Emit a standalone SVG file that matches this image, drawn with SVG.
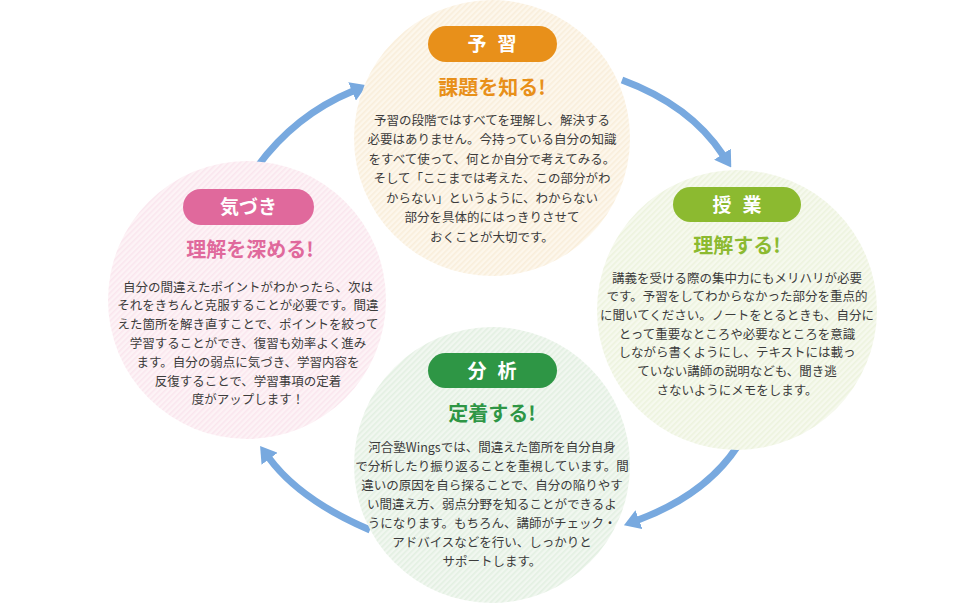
<svg xmlns="http://www.w3.org/2000/svg" width="980" height="608" viewBox="0 0 980 608">
<defs>
<pattern id="pTop" width="4" height="4" patternUnits="userSpaceOnUse" patternTransform="rotate(45)"><rect width="4" height="4" fill="#fdf7ec"/><rect width="1.6" height="4" fill="#f9eedb"/></pattern>
<pattern id="pRight" width="4" height="4" patternUnits="userSpaceOnUse" patternTransform="rotate(45)"><rect width="4" height="4" fill="#f6f9ee"/><rect width="1.6" height="4" fill="#edf3de"/></pattern>
<pattern id="pLeft" width="4" height="4" patternUnits="userSpaceOnUse" patternTransform="rotate(45)"><rect width="4" height="4" fill="#fdf3f6"/><rect width="1.6" height="4" fill="#fae6ee"/></pattern>
<pattern id="pBottom" width="4" height="4" patternUnits="userSpaceOnUse" patternTransform="rotate(45)"><rect width="4" height="4" fill="#f1f7f0"/><rect width="1.6" height="4" fill="#e3f0e2"/></pattern>
<marker id="ah" viewBox="0 0 16 20" refX="1" refY="10" markerWidth="16" markerHeight="20" markerUnits="userSpaceOnUse" orient="auto"><path d="M0,0 L16,10 L0,20 z" fill="#78a9df"/></marker>
</defs>
<style>
.arrow{fill:none;stroke:#78a9df;stroke-width:7;marker-end:url(#ah)}
.badge-t{font-family:"Noto Sans CJK JP","Noto Sans",sans-serif;font-weight:bold;font-size:19px;fill:#ffffff;text-anchor:middle}
.title{font-family:"Noto Sans CJK JP","Noto Sans",sans-serif;font-weight:bold;font-size:20px;text-anchor:middle}
.body{font-family:"Noto Sans CJK JP","Noto Sans",sans-serif;font-size:12.5px;fill:#3c3c3c;text-anchor:middle}
</style>
<rect width="980" height="608" fill="#ffffff"/>
<g id="connectors">
<path class="arrow" d="M257,167 Q295,115 353,91"/>
<path class="arrow" d="M622,80 Q690,105 723,155"/>
<path class="arrow" d="M737,447 Q705,495 638,520"/>
<path class="arrow" d="M370,530 Q300,500 269,458"/>
</g>
<g id="yoshu">
<circle cx="492" cy="138" r="138" fill="url(#pTop)"/>
<rect x="428" y="26" width="129" height="36" rx="18" fill="#e8901a"/>
<text class="badge-t" x="497.5" y="51" letter-spacing="11">予習</text>
<text class="title" x="492" y="95" fill="#e8901a">課題を知る!</text>
<text class="body" x="492" y="124.5">予習の段階ではすべてを理解し、解決する</text>
<text class="body" x="492" y="144">必要はありません。今持っている自分の知識</text>
<text class="body" x="492" y="163.5">をすべて使って、何とか自分で考えてみる。</text>
<text class="body" x="492" y="183">そして「ここまでは考えた、この部分がわ</text>
<text class="body" x="492" y="202.5">からない」というように、わからない</text>
<text class="body" x="492" y="222">部分を具体的にはっきりさせて</text>
<text class="body" x="492" y="241.5">おくことが大切です。</text>
</g>
<g id="jugyo">
<circle cx="737" cy="310" r="140" fill="url(#pRight)"/>
<rect x="673" y="187" width="128" height="35" rx="17.5" fill="#8cba30"/>
<text class="badge-t" x="742.5" y="211.5" letter-spacing="11">授業</text>
<text class="title" x="737" y="253" fill="#8cba30">理解する!</text>
<text class="body" x="737" y="282.5">講義を受ける際の集中力にもメリハリが必要</text>
<text class="body" x="737" y="301.2">です。予習をしてわからなかった部分を重点的</text>
<text class="body" x="737" y="319.9">に聞いてください。ノートをとるときも、自分に</text>
<text class="body" x="737" y="338.6">とって重要なところや必要なところを意識</text>
<text class="body" x="737" y="357.3">しながら書くようにし、テキストには載っ</text>
<text class="body" x="737" y="376">ていない講師の説明なども、聞き逃</text>
<text class="body" x="737" y="394.7">さないようにメモをします。</text>
</g>
<g id="bunseki">
<circle cx="492" cy="465" r="138" fill="url(#pBottom)"/>
<rect x="428" y="353" width="129" height="35" rx="17.5" fill="#2e9645"/>
<text class="badge-t" x="497.5" y="377.5" letter-spacing="11">分析</text>
<text class="title" x="492" y="421" fill="#2e9645">定着する!</text>
<text class="body" x="492" y="451.5">河合塾Wingsでは、間違えた箇所を自分自身</text>
<text class="body" x="492" y="470.6">で分析したり振り返ることを重視しています。間</text>
<text class="body" x="492" y="489.7">違いの原因を自ら探ることで、自分の陥りやす</text>
<text class="body" x="492" y="508.8">い間違え方、弱点分野を知ることができるよ</text>
<text class="body" x="492" y="527.9">うになります。もちろん、講師がチェック・</text>
<text class="body" x="492" y="547">アドバイスなどを行い、しっかりと</text>
<text class="body" x="492" y="566.1">サポートします。</text>
</g>
<g id="kizuki">
<circle cx="247" cy="300" r="139" fill="url(#pLeft)"/>
<rect x="183" y="189" width="131" height="36" rx="18" fill="#e0699c"/>
<text class="badge-t" x="248.5" y="214">気づき</text>
<text class="title" x="250" y="257" fill="#e0699c">理解を深める!</text>
<text class="body" x="248" y="291.5">自分の間違えたポイントがわかったら、次は</text>
<text class="body" x="248" y="310.3">それをきちんと克服することが必要です。間違</text>
<text class="body" x="248" y="329.1">えた箇所を解き直すことで、ポイントを絞って</text>
<text class="body" x="248" y="347.9">学習することができ、復習も効率よく進み</text>
<text class="body" x="248" y="366.7">ます。自分の弱点に気づき、学習内容を</text>
<text class="body" x="248" y="385.5">反復することで、学習事項の定着</text>
<text class="body" x="248" y="404.3">度がアップします！</text>
</g>
</svg>
